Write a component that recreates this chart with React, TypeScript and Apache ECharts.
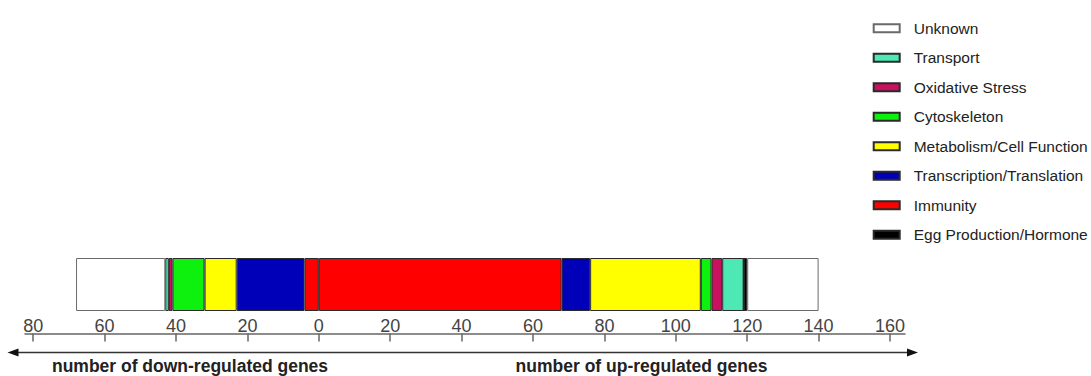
import React, { useEffect, useRef } from "react";
import * as echarts from "echarts";

// Functional categories, in legend order
const legendOrder = [
  "Unknown",
  "Transport",
  "Oxidative Stress",
  "Cytoskeleton",
  "Metabolism/Cell Function",
  "Transcription/Translation",
  "Immunity",
  "Egg Production/Hormone",
];

// Stacking order, from zero outwards
const stackOrder = [
  "Immunity",
  "Transcription/Translation",
  "Metabolism/Cell Function",
  "Cytoskeleton",
  "Oxidative Stress",
  "Transport",
  "Egg Production/Hormone",
  "Unknown",
];

// Gene counts per category, following stackOrder
const downRegulated = [4, 19, 9, 9, 1, 1, 0, 25];
const upRegulated = [68, 8, 31, 3, 3, 6, 1, 20];

const colors: Record<string, string> = {
  Unknown: "#ffffff",
  Transport: "#4ee8b4",
  "Oxidative Stress": "#c8115f",
  Cytoskeleton: "#0ef00e",
  "Metabolism/Cell Function": "#ffff00",
  "Transcription/Translation": "#0000b8",
  Immunity: "#ff0000",
  "Egg Production/Hormone": "#000000",
};

// Axis ticks (down-regulated counts are negative)
const tickValues = [-80, -60, -40, -20, 0, 20, 40, 60, 80, 100, 120, 140, 160];
const axisMin = -82.3;
const axisMax = 164.2;

const FONT = "'Liberation Sans', Arial, sans-serif";

export default function App() {
  const ref = useRef<HTMLDivElement>(null);

  useEffect(() => {
    if (!ref.current) return;
    const chart = echarts.init(ref.current, null, { renderer: "svg" });

    const series: any[] = [];
    stackOrder.forEach((name, i) => {
      const itemStyle = {
        color: colors[name],
        borderColor: name === "Unknown" ? "#6a6a6a" : "#2a2a2a",
        borderWidth: 1,
      };
      series.push({
        name,
        type: "bar",
        stack: "genes",
        barWidth: "100%",
        itemStyle,
        data: [-downRegulated[i]],
      });
      series.push({
        name,
        type: "bar",
        stack: "genes",
        barWidth: "100%",
        itemStyle,
        data: [upRegulated[i]],
      });
    });

    const arrowY = 352.5;
    const arrowL = 7.5;
    const arrowR = 918;

    chart.setOption({
      animation: false,
      textStyle: { fontFamily: FONT },
      grid: { left: 25, width: 880, top: 258, height: 53 },
      legend: {
        orient: "vertical",
        left: 872.7,
        top: 20.3,
        padding: 0,
        icon: "rect",
        itemWidth: 26,
        itemHeight: 8,
        itemGap: 13.5,
        data: legendOrder,
        selectedMode: false,
        textStyle: {
          fontFamily: FONT,
          fontSize: 15.5,
          lineHeight: 16,
          color: "#222",
          padding: [0, 0, 0, 9],
        },
      },
      xAxis: {
        type: "value",
        min: axisMin,
        max: axisMax,
        position: "bottom",
        offset: 22.5,
        splitLine: { show: false },
        axisLine: { show: true, lineStyle: { color: "#666", width: 1.5 } },
        axisTick: {
          show: true,
          customValues: tickValues,
          length: 8,
          inside: false,
          lineStyle: { color: "#666", width: 1.5 },
        },
        axisLabel: {
          show: true,
          customValues: tickValues,
          inside: true,
          margin: -1,
          fontSize: 18,
          color: "#444",
          fontFamily: FONT,
          formatter: (v: number) => String(Math.abs(v)),
        },
      },
      yAxis: {
        type: "category",
        data: ["genes"],
        show: false,
      },
      graphic: [
        {
          type: "line",
          shape: { x1: arrowL + 8, y1: arrowY, x2: arrowR - 8, y2: arrowY },
          style: { stroke: "#333", lineWidth: 1.5 },
        },
        {
          type: "polygon",
          shape: {
            points: [
              [arrowL, arrowY],
              [arrowL + 11, arrowY - 4],
              [arrowL + 11, arrowY + 4],
            ],
          },
          style: { fill: "#111" },
        },
        {
          type: "polygon",
          shape: {
            points: [
              [arrowR, arrowY],
              [arrowR - 11, arrowY - 4],
              [arrowR - 11, arrowY + 4],
            ],
          },
          style: { fill: "#111" },
        },
        {
          type: "text",
          x: 190,
          y: 366,
          style: {
            text: "number of down-regulated genes",
            font: `bold 17.5px ${FONT}`,
            fill: "#222",
            align: "center",
            verticalAlign: "middle",
          },
        },
        {
          type: "text",
          x: 641.5,
          y: 366,
          style: {
            text: "number of up-regulated genes",
            font: `bold 17.5px ${FONT}`,
            fill: "#222",
            align: "center",
            verticalAlign: "middle",
          },
        },
      ],
      series,
    });

    return () => chart.dispose();
  }, []);

  return (
    <div
      ref={ref}
      style={{ position: "fixed", left: 0, top: 0, width: 1091, height: 376, background: "#fff" }}
    />
  );
}
